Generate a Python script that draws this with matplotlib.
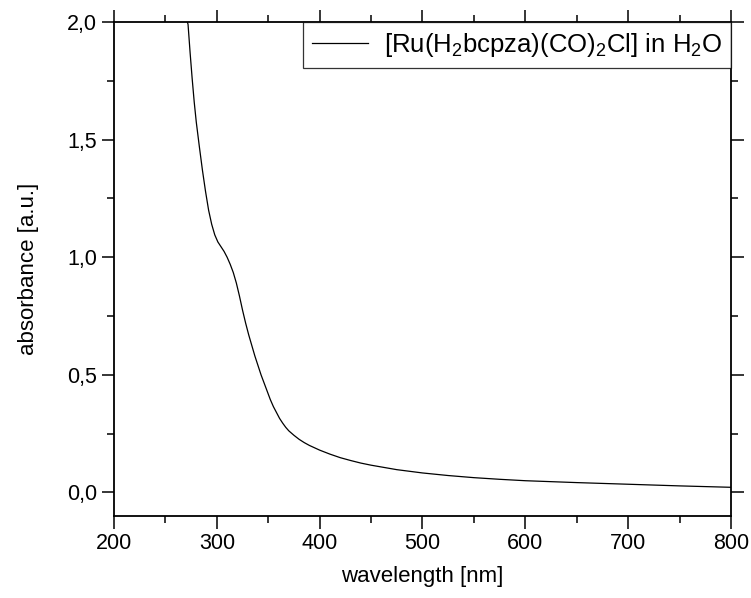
import matplotlib
matplotlib.use("Agg")
import matplotlib.pyplot as plt
from matplotlib.ticker import MultipleLocator, FuncFormatter

plt.rcParams['font.family'] = ['Liberation Sans', 'DejaVu Sans']
plt.rcParams['mathtext.fontset'] = 'custom'
plt.rcParams['mathtext.rm'] = 'Liberation Sans'
plt.rcParams['mathtext.it'] = 'Liberation Sans'

# spectrum
wavelength = [270, 272, 274, 276, 278, 280, 283, 286, 289, 292, 295, 298, 301, 304, 307,
              310, 313, 316, 319, 322, 325, 328, 331, 334, 337, 340, 343, 346, 349, 352,
              355, 358, 361, 364, 367, 370, 375, 380, 385, 390, 395, 400, 410, 420, 430,
              440, 450, 475, 500, 525, 550, 575, 600, 650, 700, 750, 800]
absorbance = [2.02, 1.99, 1.87, 1.76, 1.66, 1.575, 1.47, 1.37, 1.28, 1.2, 1.14, 1.095, 1.065,
              1.045, 1.025, 1.0, 0.97, 0.935, 0.89, 0.835, 0.775, 0.72, 0.67, 0.625, 0.58,
              0.54, 0.50, 0.465, 0.43, 0.395, 0.365, 0.34, 0.315, 0.295, 0.277, 0.262, 0.243,
              0.226, 0.212, 0.200, 0.19, 0.18, 0.163, 0.148, 0.136, 0.125, 0.116, 0.097,
              0.083, 0.072, 0.063, 0.056, 0.05, 0.042, 0.035, 0.028, 0.022]

series_label = r'[Ru(H$_2$bcpza)(CO)$_2$Cl] in H$_2$O'

fig = plt.figure(figsize=(7.51, 5.98), dpi=100)
ax = fig.add_axes([114/751, 82/598, 617/751, 494/598])

ax.plot(wavelength, absorbance, color='black', lw=0.9, label=series_label)
ax.set_xlim(200, 800)
ax.set_ylim(-0.1, 2.0)

ax.xaxis.set_major_locator(MultipleLocator(100))
ax.xaxis.set_minor_locator(MultipleLocator(50))
ax.yaxis.set_major_locator(MultipleLocator(0.5))
ax.yaxis.set_minor_locator(MultipleLocator(0.25))
ax.yaxis.set_major_formatter(FuncFormatter(lambda v, p: f"{v:.1f}".replace('.', ',')))

ax.tick_params(which='both', direction='out', top=True, right=True,
               labeltop=False, labelright=False, width=1.1, labelsize=15.5, pad=3)
ax.tick_params(which='major', length=9)
ax.tick_params(which='minor', length=5)
for s in ax.spines.values():
    s.set_linewidth(1.3)

ax.set_xlabel('wavelength [nm]', fontsize=16, labelpad=9)
ax.set_ylabel('absorbance [a.u.]', fontsize=16, labelpad=20)

leg = ax.legend(loc='upper right', fontsize=18.5, frameon=True, fancybox=False,
                borderaxespad=0, handlelength=2.2, borderpad=0.35, handletextpad=0.6)
leg.get_frame().set_edgecolor('black')
leg.get_frame().set_linewidth(0.9)

fig.savefig('out.png', dpi=100)
